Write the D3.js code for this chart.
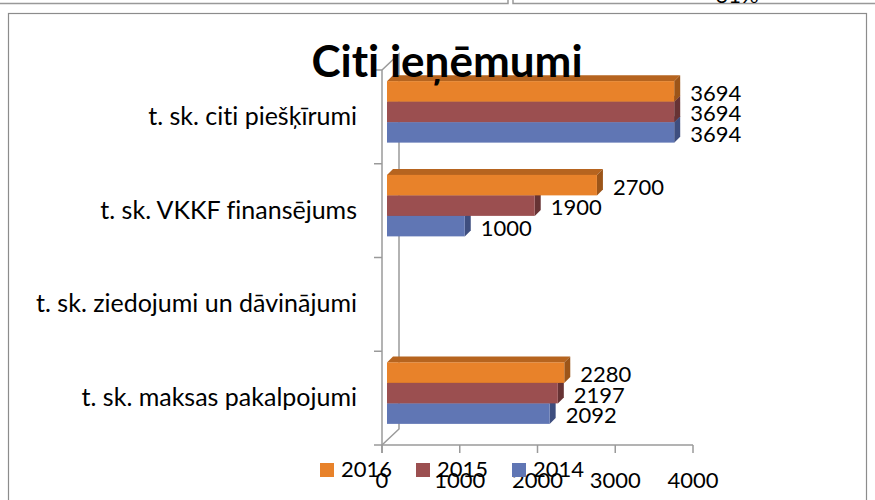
<!DOCTYPE html>
<html>
<head>
<meta charset="utf-8">
<script src="https://cdn.jsdelivr.net/npm/d3@7"></script>
<style>
  body { margin: 0; background: #fff; }
  text { font-family: Lato, "DejaVu Sans", sans-serif; fill: #000; font-variant-ligatures: none; }
</style>
</head>
<body>
<div id="container"></div>
<script>
// dati
const categories = [
  't. sk. citi piešķīrumi',
  't. sk. VKKF finansējums',
  't. sk. ziedojumi un dāvinājumi',
  't. sk. maksas pakalpojumi'
];
const seriesNames = ['2016', '2015', '2014'];   // no augšas uz leju grupā
const values2016 = [3694, 2700, null, 2280];
const values2015 = [3694, 1900, null, 2197];
const values2014 = [3694, 1000, null, 2092];
const xTicks = [0, 1000, 2000, 3000, 4000];
const titleText = 'Citi ieņēmumi';

const seriesValues = { '2016': values2016, '2015': values2015, '2014': values2014 };
const colors = {
  '2016': { front: '#e8822a', top: '#b6641f', side: '#9c5519' },
  '2015': { front: '#9b4f50', top: '#7b3d3e', side: '#673334' },
  '2014': { front: '#6076b4', top: '#4b5e95', side: '#3e4e7f' }
};

const width = 875, height = 500;
const svg = d3.select('#container').append('svg')
  .attr('width', width).attr('height', height);

// apkārtējie rāmji (citu diagrammu malas)
svg.append('path').attr('d', 'M0,3.5 H508 V0').attr('fill', 'none').attr('stroke', '#999').attr('stroke-width', 1.5);
svg.append('path').attr('d', 'M513,0 V3.5 H875').attr('fill', 'none').attr('stroke', '#999').attr('stroke-width', 1.5);
svg.append('text').attr('x', 737).attr('y', 3).attr('text-anchor', 'middle')
  .style('font-size', '22px').text('31%');
svg.append('rect').attr('x', 8.5).attr('y', 13.5).attr('width', 858).attr('height', 520)
  .attr('fill', '#fff').attr('stroke', '#8c8c8c').attr('stroke-width', 1.2);

// skalas (priekšējā plakne)
const x = d3.scaleLinear().domain([0, 4000]).range([382, 693]);
const y = d3.scaleBand().domain(categories).range([70, 445]);
const groupH = 61.5;
const inner = d3.scaleBand().domain(seriesNames).range([0, groupH]);
const wall = { dx: 17, dy: -16 };
const barShift = { dx: 5, dy: -5 };
const barDepth = { dx: 6, dy: -6 };
const axisColor = '#9a9a9a';

// sienas līnijas
const x0 = x(0), yTop = y.range()[0], yBot = y.range()[1];
svg.append('path')
  .attr('d', `M${x0},${yTop} L${x0 + wall.dx},${yTop + wall.dy} V${yBot + wall.dy} L${x0},${yBot}`)
  .attr('fill', 'none').attr('stroke', axisColor).attr('stroke-width', 1.5);

// kategoriju ass
svg.append('line').attr('x1', x0).attr('x2', x0).attr('y1', yTop).attr('y2', yBot + 8)
  .attr('stroke', axisColor).attr('stroke-width', 1.5);
const catTicks = categories.map(c => y(c)).concat([yBot]);
svg.selectAll('.ctick').data(catTicks).enter().append('line')
  .attr('x1', x0 - 8).attr('x2', x0).attr('y1', d => d).attr('y2', d => d)
  .attr('stroke', axisColor).attr('stroke-width', 1.5);

// vērtību ass
svg.append('line').attr('x1', x0).attr('x2', x(4000)).attr('y1', yBot).attr('y2', yBot)
  .attr('stroke', axisColor).attr('stroke-width', 1.5);
svg.selectAll('.xtick').data(xTicks).enter().append('line')
  .attr('x1', d => x(d)).attr('x2', d => x(d)).attr('y1', yBot).attr('y2', yBot + 8)
  .attr('stroke', axisColor).attr('stroke-width', 1.5);
svg.selectAll('.xlabel').data(xTicks).enter().append('text')
  .attr('x', d => x(d)).attr('y', 488).attr('text-anchor', 'middle')
  .style('font-size', '22px').text(d => d);

// kategoriju nosaukumi
svg.selectAll('.clabel').data(categories).enter().append('text')
  .attr('x', 357).attr('y', d => y(d) + y.bandwidth() / 2 + 8)
  .attr('text-anchor', 'end').style('font-size', '25px').text(d => d);

// 3D stabiņi: apakšējie vispirms
const drawOrder = seriesNames.slice().reverse();
drawOrder.forEach(s => {
  categories.forEach((c, i) => {
    const v = seriesValues[s][i];
    if (v == null) return;
    const bx0 = x(0) + barShift.dx, bx1 = x(v) + barShift.dx;
    const by0 = y(c) + (y.bandwidth() - groupH) / 2 + inner(s) + barShift.dy;
    const bh = inner.bandwidth();
    const dx = barDepth.dx, dy = barDepth.dy;
    const g = svg.append('g');
    g.append('polygon')
      .attr('points', [[bx0, by0], [bx0 + dx, by0 + dy], [bx1 + dx, by0 + dy], [bx1, by0]].join(' '))
      .attr('fill', colors[s].top);
    g.append('polygon')
      .attr('points', [[bx1, by0], [bx1 + dx, by0 + dy], [bx1 + dx, by0 + bh + dy], [bx1, by0 + bh]].join(' '))
      .attr('fill', colors[s].side);
    g.append('rect')
      .attr('x', bx0).attr('y', by0).attr('width', bx1 - bx0).attr('height', bh)
      .attr('fill', colors[s].front);
  });
});

// vērtību etiķetes
seriesNames.forEach(s => {
  categories.forEach((c, i) => {
    const v = seriesValues[s][i];
    if (v == null) return;
    const by0 = y(c) + (y.bandwidth() - groupH) / 2 + inner(s) + barShift.dy;
    svg.append('text')
      .attr('x', x(v) + barShift.dx + 16)
      .attr('y', by0 + inner.bandwidth() / 2 + 9.5)
      .style('font-size', '22px').text(v);
  });
});

// leģenda
const legendX = [320, 416, 512];
seriesNames.forEach((s, i) => {
  svg.append('rect').attr('x', legendX[i]).attr('y', 463).attr('width', 14).attr('height', 14)
    .attr('fill', colors[s].front);
  svg.append('text').attr('x', legendX[i] + 21).attr('y', 477)
    .style('font-size', '22px').text(s);
});

// virsraksts
svg.append('text').attr('x', 447).attr('y', 77).attr('text-anchor', 'middle')
  .style('font-size', '44px').style('font-weight', 'bold').text(titleText);
</script>
</body>
</html>
